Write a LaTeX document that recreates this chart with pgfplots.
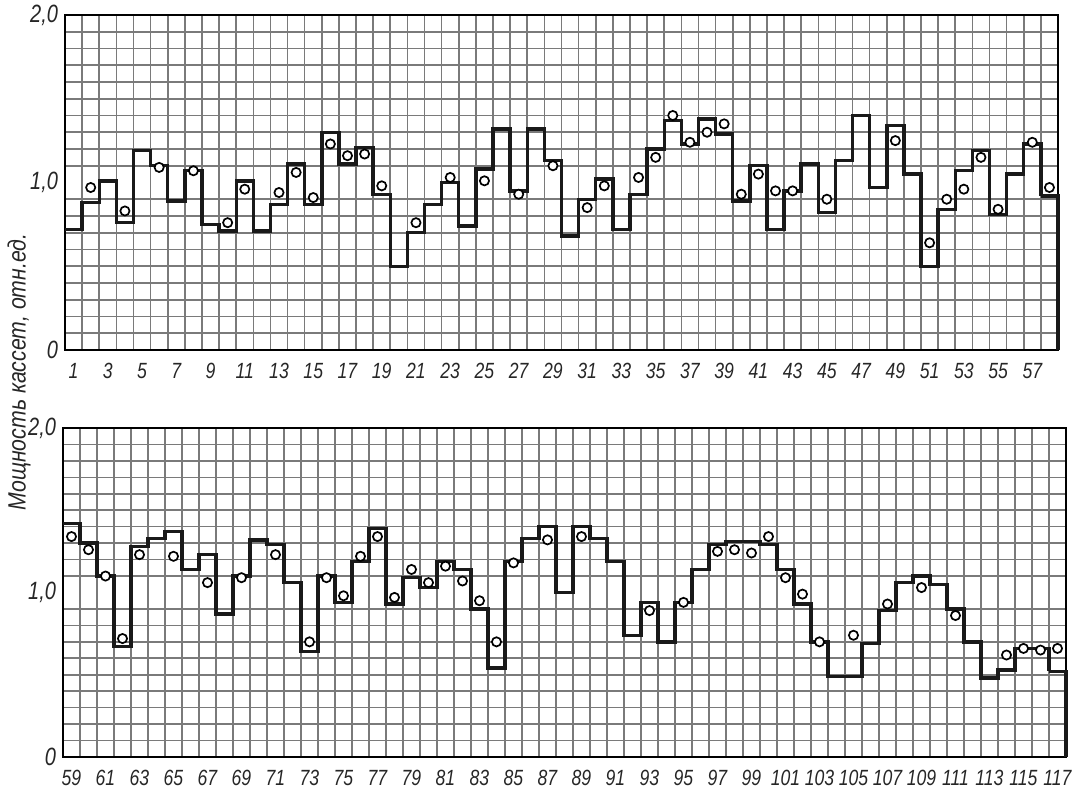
\documentclass[border=0pt]{standalone}
\usepackage{fontspec}
\setmainfont{Liberation Sans}
\newfontfamily\gost[FakeStretch=0.85]{Liberation Sans}
\newfontfamily\gosttick[FakeStretch=0.8]{Liberation Sans}
\usepackage{pgfplots}
\usepackage{pgfplotstable}
\pgfplotsset{compat=1.18}

% n = cassette number, step = power (step line), circ = measured point (nan = none)
\pgfplotstableread{
n step circ
1 0.72 nan
2 0.88 0.97
3 1.01 nan
4 0.76 0.83
5 1.19 nan
6 1.10 1.09
7 0.89 nan
8 1.07 1.07
9 0.75 nan
10 0.71 0.76
11 1.01 0.96
12 0.71 nan
13 0.87 0.94
14 1.11 1.06
15 0.87 0.91
16 1.30 1.23
17 1.11 1.16
18 1.21 1.17
19 0.93 0.98
20 0.50 nan
21 0.70 0.76
22 0.87 nan
23 1.00 1.03
24 0.74 nan
25 1.08 1.01
26 1.32 nan
27 0.95 0.93
28 1.32 nan
29 1.13 1.10
30 0.68 nan
31 0.90 0.85
32 1.02 0.98
33 0.72 nan
34 0.93 1.03
35 1.20 1.15
36 1.37 1.40
37 1.23 1.24
38 1.38 1.30
39 1.29 1.35
40 0.89 0.93
41 1.10 1.05
42 0.72 0.95
43 0.95 0.95
44 1.11 nan
45 0.82 0.90
46 1.13 nan
47 1.40 nan
48 0.97 nan
49 1.34 1.25
50 1.05 nan
51 0.50 0.64
52 0.84 0.90
53 1.07 0.96
54 1.19 1.15
55 0.81 0.84
56 1.05 nan
57 1.23 1.24
58 0.92 0.97
}\toptable

\pgfplotstableread{
n step circ
59 1.42 1.34
60 1.30 1.26
61 1.10 1.10
62 0.67 0.72
63 1.28 1.23
64 1.33 nan
65 1.37 1.22
66 1.14 nan
67 1.23 1.06
68 0.87 nan
69 1.10 1.09
70 1.32 nan
71 1.29 1.23
72 1.06 nan
73 0.64 0.70
74 1.10 1.09
75 0.94 0.98
76 1.19 1.22
77 1.39 1.34
78 0.93 0.97
79 1.09 1.14
80 1.03 1.06
81 1.19 1.16
82 1.14 1.07
83 0.90 0.95
84 0.54 0.70
85 1.19 1.18
86 1.33 nan
87 1.40 1.32
88 1.00 nan
89 1.40 1.34
90 1.33 nan
91 1.19 nan
92 0.74 nan
93 0.94 0.89
94 0.70 nan
95 0.94 0.94
96 1.14 nan
97 1.29 1.25
98 1.31 1.26
99 1.31 1.24
100 1.29 1.34
101 1.14 1.09
102 0.93 0.99
103 0.70 0.70
104 0.49 nan
105 0.49 0.74
106 0.69 nan
107 0.89 0.93
108 1.06 nan
109 1.10 1.03
110 1.05 nan
111 0.90 0.86
112 0.70 nan
113 0.48 nan
114 0.53 0.62
115 0.66 0.66
116 0.66 0.65
117 0.52 0.66
}\bottable

% cassette n occupies the cell [n-1, n]; its label sits at n-0.5
\pgfplotsset{
  panel/.style={
    scale only axis,
    ymin=0, ymax=2,
    ytick={0,1,2}, yticklabels={0,{1,0},{2,0}},
    minor y tick num=9,
    major tick length=0pt, minor tick length=0pt,
    grid=both,
    major grid style={draw=none},
    minor grid style={black!52, line width=0.8pt},
    axis line style={black, line width=1.1pt},
    tick label style={font=\gosttick\itshape\fontsize{11}{13}\selectfont, black!85},
    yticklabel style={font=\gosttick\itshape\fontsize{12.5}{14}\selectfont, black!85},
    xticklabel style={yshift=-3pt},
    clip=false,
  },
  stepline/.style={const plot, black!90, line width=1.7pt, line join=miter},
  circ/.style={only marks, mark=*, mark size=2.3pt,
    mark options={draw=black, fill=white, line width=0.85pt}},
}

\begin{document}
\begin{tikzpicture}
\useasboundingbox (0,0) rectangle (538.5pt,-397.5pt);

\begin{axis}[panel,
  at={(32.5pt,-7.5pt)}, anchor=north west,
  width=496.5pt, height=167.5pt,
  xmin=0, xmax=58,
  xtick={0.5,2.5,...,56.5},
  xticklabels={1,3,5,7,9,11,13,15,17,19,21,23,25,27,29,31,33,35,37,39,41,43,45,47,49,51,53,55,57},
  minor xtick={0,...,58},
]
\addplot[stepline] table[x expr=\thisrow{n}-1, y=step] {\toptable};
\addplot[stepline, const plot=false] coordinates {(57,0.92) (58,0.92) (58,0)};
\addplot[circ] table[x expr=\thisrow{n}-0.5, y=circ] {\toptable};
\end{axis}

\begin{axis}[panel,
  at={(31.5pt,-214pt)}, anchor=north west,
  width=501.5pt, height=164.5pt,
  xmin=58, xmax=117,
  xtick={58.5,60.5,...,116.5},
  xticklabels={59,61,63,65,67,69,71,73,75,77,79,81,83,85,87,89,91,93,95,97,99,101,103,105,107,109,111,113,115,117},
  minor xtick={58,...,117},
]
\addplot[stepline] table[x expr=\thisrow{n}-1, y=step] {\bottable};
\addplot[stepline, const plot=false] coordinates {(116,0.52) (117,0.52) (117,0)};
\addplot[circ] table[x expr=\thisrow{n}-0.5, y=circ] {\bottable};
\end{axis}

\node[rotate=90, font=\gost\itshape\fontsize{12.5}{14}\selectfont, black!85]
  at (9.5pt,-186pt) {Мощность кассет, отн.ед.};
\end{tikzpicture}
\end{document}
